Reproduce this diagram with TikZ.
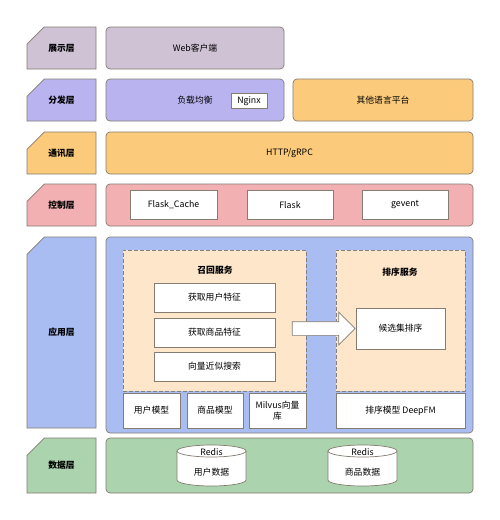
\documentclass[tikz,border=0pt]{standalone}
\usepackage{fontspec}
\setmainfont{Noto Sans CJK SC}
\usetikzlibrary{shapes.misc,shapes.arrows}
\definecolor{showc}{HTML}{CEC2D4}
\definecolor{distc}{HTML}{B9B4F0}
\definecolor{orangec}{HTML}{FBCB7B}
\definecolor{ctrlc}{HTML}{F2B0B3}
\definecolor{appc}{HTML}{A9BDF3}
\definecolor{peachc}{HTML}{FDE6CA}
\definecolor{datac}{HTML}{ABD4AE}
\definecolor{edgec}{HTML}{857C72}
\newcommand{\pxu}{0.5mm}
\tikzset{
	tag/.style={chamfered rectangle,chamfered rectangle corners=north west,chamfered rectangle xsep=7mm,chamfered rectangle ysep=7mm,
		draw=edgec,line width=1pt,inner sep=0pt,minimum width=69*\pxu,font=\fontsize{12.5}{15}\selectfont\bfseries},
	band/.style={draw=edgec,rounded corners=2mm,line width=1pt,inner sep=0pt,minimum width=367*\pxu},
	cell/.style={draw=edgec,fill=white,line width=1pt,inner sep=0pt,align=center},
	zone/.style={draw=gray,dash pattern=on 2mm off 1mm,fill=peachc,line width=1pt,inner sep=0pt},
	title/.style={font=\fontsize{12.5}{15}\selectfont\bfseries},
	db/.style={draw=edgec,fill=white,line width=1pt}
}
\begin{document}
\begin{tikzpicture}[x=\pxu,y=-\pxu,font=\fontsize{12.5}{15}\selectfont]
				\path[use as bounding box,fill=white] (0,0) rectangle (500,520);
				% layer tags
				\node[tag,fill=showc,minimum height=42*\pxu] (showtag) at (61.5,48) {展示层};
				\node[tag,fill=distc,minimum height=42*\pxu] (disttag) at (61.5,100) {分发层};
				\node[tag,fill=orangec,minimum height=42*\pxu] (commtag) at (61.5,153) {通讯层};
				\node[tag,fill=ctrlc,minimum height=42*\pxu] (ctrltag) at (61.5,205) {控制层};
				\node[tag,fill=appc,minimum height=191*\pxu] (apptag) at (61.5,332.5) {应用层};
				\node[tag,fill=datac,minimum height=55*\pxu] (datatag) at (61.5,465.5) {数据层};
				% show and dispatch
				\node[band,fill=showc,minimum width=178*\pxu,minimum height=42*\pxu] (web) at (195,48) {Web客户端};
				\node[band,fill=distc,minimum width=178*\pxu,minimum height=42*\pxu] (lb) at (195,100) {};
				\node (lbtext) at (195,100) {负载均衡};
				\node[cell,minimum width=36*\pxu,minimum height=15*\pxu] (nginx) at (249,101) {Nginx};
				\node[band,fill=orangec,minimum width=180*\pxu,minimum height=42*\pxu] (other) at (383,100) {其他语言平台};
				% comm and control
				\node[band,fill=orangec,minimum height=42*\pxu] (http) at (289.5,153) {HTTP/gRPC};
				\node[band,fill=ctrlc,minimum height=42*\pxu] (ctrl) at (289.5,205) {};
				\node[cell,minimum width=87*\pxu,minimum height=29*\pxu] (cache) at (173.5,205) {Flask\_Cache};
				\node[cell,minimum width=86*\pxu,minimum height=29*\pxu] (flask) at (290,205) {Flask};
				\node[cell,minimum width=86*\pxu,minimum height=29*\pxu] (gevent) at (405,205) {gevent};
				% application
				\node[band,fill=appc,minimum height=196*\pxu] (app) at (289.5,335) {};
				\node[zone,minimum width=183*\pxu,minimum height=141*\pxu] (recall) at (214.5,320.5) {};
				\node[title] (recalltitle) at (215,270) {召回服务};
				\node[cell,minimum width=121*\pxu,minimum height=29*\pxu] (userfeat) at (214.5,297.5) {获取用户特征};
				\node[cell,minimum width=121*\pxu,minimum height=29*\pxu] (itemfeat) at (214.5,332.5) {获取商品特征};
				\node[cell,minimum width=121*\pxu,minimum height=29*\pxu] (ann) at (214.5,366.5) {向量近似搜索};
				\node[zone,minimum width=129*\pxu,minimum height=141*\pxu] (rank) at (400.5,320.5) {};
				\node[title] (ranktitle) at (400,272) {排序服务};
				\node[cell,minimum width=89*\pxu,minimum height=41*\pxu] (cand) at (400.5,328.5) {候选集排序};
				\node[single arrow,draw=edgec,fill=white,line width=1pt,minimum height=63*\pxu,
					single arrow head extend=9.5*\pxu,inner ysep=6.5*\pxu,inner xsep=0pt,anchor=tip] (flow) at (cand.west) {};
				\node[cell,minimum width=57*\pxu,minimum height=35*\pxu] (usermodel) at (151.5,410.5) {用户模型};
				\node[cell,minimum width=56*\pxu,minimum height=35*\pxu] (itemmodel) at (215,410.5) {商品模型};
				\node[cell,minimum width=57*\pxu,minimum height=35*\pxu] (milvus) at (277.5,410.5) {Milvus向量\\库};
				\node[cell,minimum width=129*\pxu,minimum height=35*\pxu] (deepfm) at (400.5,410.5) {排序模型 DeepFM};
				% data
				\node[band,fill=datac,minimum height=55*\pxu] (data) at (289.5,465.5) {};
				\coordinate (userdb) at (211.5,465.5);
				\draw[db] (177,451) -- (177,480) arc (180:360:17.25mm and 3mm) -- (246,451) arc (0:180:17.25mm and 3mm) -- cycle;
				\draw[db] (246,451) arc (0:-180:17.25mm and 3mm);
				\node (userdbtop) at (211.5,452) {Redis};
				\node (userdbtext) at (211.5,472) {用户数据};
				\coordinate (itemdb) at (362.5,465.5);
				\draw[db] (328,451) -- (328,480) arc (180:360:17.25mm and 3mm) -- (397,451) arc (0:180:17.25mm and 3mm) -- cycle;
				\draw[db] (397,451) arc (0:-180:17.25mm and 3mm);
				\node (itemdbtop) at (362.5,452) {Redis};
				\node (itemdbtext) at (362.5,472) {商品数据};
			\end{tikzpicture}
\end{document}
